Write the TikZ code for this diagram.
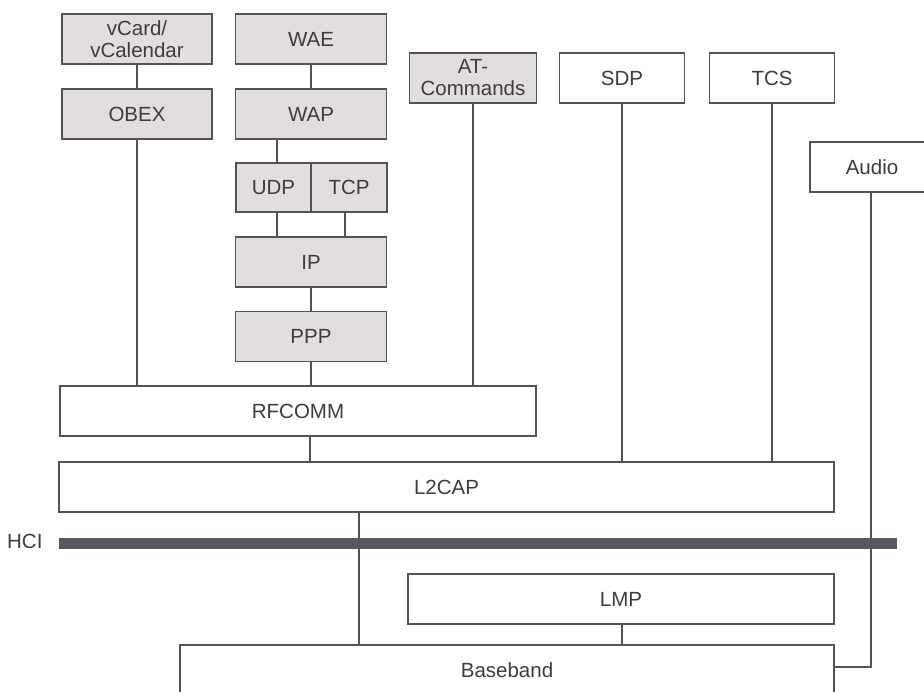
\documentclass[tikz,border=0pt]{standalone}
\usepackage{fontspec}
\setmainfont{Liberation Sans}
\begin{document}
\definecolor{edge}{HTML}{555255}
\definecolor{shade}{HTML}{E2DEDE}
\definecolor{ink}{HTML}{3E3C3E}
\definecolor{hcibar}{HTML}{5A5466}
\begin{tikzpicture}[x=1pt,y=-1pt,
  layer/.style={draw=edge, line width=1.6pt, fill=white, inner sep=0pt,
    text=ink, font=\fontsize{20.5}{22}\selectfont, align=center,
    minimum width=#1, minimum height=50pt},
  layer/.default=150pt,
  grey/.style={fill=shade},
  wire/.style={draw=edge, line width=1.6pt}]
\useasboundingbox (0,0) rectangle (924,692);
\clip (0,0) rectangle (924,692);

% upper protocol stack (grey: adopted protocols)
\node[layer, grey] (vcard) at (137,39) {vCard/\\vCalendar};
\node[layer, grey] (obex) at (137,114) {OBEX};
\node[layer=151pt, grey] (wae) at (311,39) {WAE};
\node[layer=151pt, grey] (wap) at (311,114) {WAP};
\node[layer=75pt, grey, minimum height=49pt] (udp) at (273.5,187.5) {UDP};
\node[layer=76pt, grey, minimum height=49pt] (tcp) at (349,187.5) {TCP};
\node[layer=151pt, grey] (ip) at (311,262) {IP};
\node[layer=151pt, grey] (ppp) at (311,336.5) {PPP};
\node[layer=127pt, grey] (at) at (473,78) {AT-\\Commands};
\node[layer=125pt] (sdp) at (622,78) {SDP};
\node[layer=125pt] (tcs) at (772,78) {TCS};
\node[layer=124pt] (audio) at (872,167) {Audio};

% core layers
\node[layer=476pt] (rfcomm) at (298,411) {RFCOMM};
\node[layer=775pt] (l2cap) at (446.5,487) {L2CAP};
\node[layer=426pt] (lmp) at (621,599) {LMP};
\node[layer=654pt] (baseband) at (507,670) {Baseband};

% host controller interface
\coordinate (hciL) at (59,543.5);
\coordinate (hciR) at (897,543.5);
\node[text=ink, font=\fontsize{20.5}{22}\selectfont, anchor=east] (hci) at (46,541) {HCI};

% connections
\draw[wire] (vcard) -- (obex);
\draw[wire] (obex) -- (obex.south |- rfcomm.north);
\draw[wire] (wae) -- (wap);
\draw[wire] ([xshift=3.5pt]udp.north) -- ([xshift=3.5pt]udp.north |- wap.south);
\draw[wire] ([xshift=3.5pt]udp.south) -- ([xshift=3.5pt]udp.south |- ip.north);
\draw[wire] ([xshift=-4pt]tcp.south) -- ([xshift=-4pt]tcp.south |- ip.north);
\draw[wire] (ip) -- (ppp);
\draw[wire] (ppp) -- (ppp.south |- rfcomm.north);
\draw[wire] (at) -- (at.south |- rfcomm.north);
\draw[wire] ([xshift=12pt]rfcomm.south) -- ([xshift=12pt]rfcomm.south |- l2cap.north);
\draw[wire] (sdp) -- (sdp.south |- l2cap.north);
\draw[wire] (tcs) -- (tcs.south |- l2cap.north);
\draw[wire] ([xshift=-87.5pt]l2cap.south) -- ([xshift=-87.5pt]l2cap.south |- baseband.north);
\draw[wire] ([xshift=1pt]lmp.south) -- ([xshift=1pt]lmp.south |- baseband.north);
\draw[wire] ([xshift=-1pt]audio.south) |- ([yshift=3pt]baseband.east);

% HCI bar drawn over the wires that cross it
\draw[draw=hcibar, line width=11pt] (hciL) -- (hciR);
\draw[wire] ([xshift=-87.5pt]l2cap.south |- hciL) ++(0,-5.5) -- ++(0,11);
\draw[wire] ([xshift=-1pt]audio.south |- hciL) ++(0,-5.5) -- ++(0,11);
\end{tikzpicture}
\end{document}
